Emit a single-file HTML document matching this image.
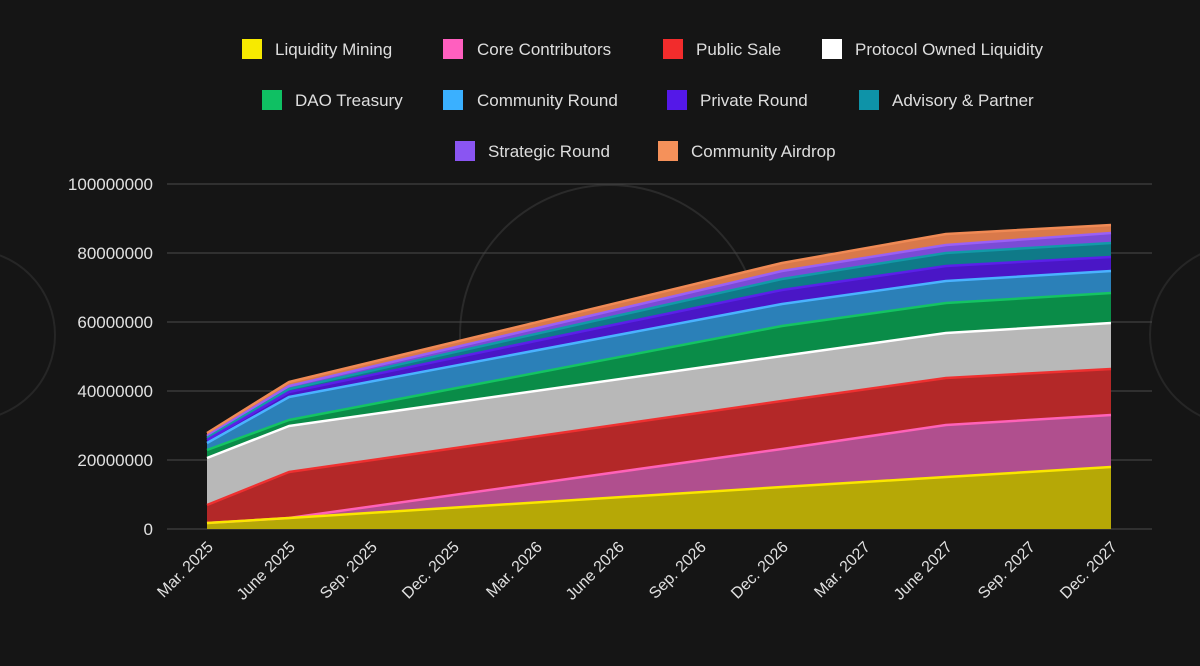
<!DOCTYPE html>
<html><head><meta charset="utf-8"><style>
html,body{margin:0;padding:0;background:#141414;width:1200px;height:666px;overflow:hidden}
svg{display:block}
text{font-family:"Liberation Sans",sans-serif}
</style></head><body>
<svg width="1200" height="666" viewBox="0 0 1200 666">
<rect width="1200" height="666" fill="#151515"/>
<circle cx="610" cy="335" r="150" fill="none" stroke="#2a2a2a" stroke-width="2"/>
<circle cx="-30" cy="335" r="85" fill="none" stroke="#262626" stroke-width="2"/>
<circle cx="1240" cy="335" r="90" fill="none" stroke="#262626" stroke-width="2"/>
<g stroke="#4a4a4a" stroke-width="1">
<line x1="167" y1="184" x2="1152" y2="184"/>
<line x1="167" y1="253" x2="1152" y2="253"/>
<line x1="167" y1="322" x2="1152" y2="322"/>
<line x1="167" y1="391" x2="1152" y2="391"/>
<line x1="167" y1="460" x2="1152" y2="460"/>
<line x1="167" y1="529" x2="1152" y2="529"/>
</g>
<g fill="#e0e0e0" font-size="17" text-anchor="end">
<text x="153" y="190">100000000</text>
<text x="153" y="259">80000000</text>
<text x="153" y="328">60000000</text>
<text x="153" y="397">40000000</text>
<text x="153" y="466">20000000</text>
<text x="153" y="535">0</text>
</g>
<polygon fill="#d9794a" points="207,529 207,433 289,382 782,263 946,234 1111,225 1111,529"/>
<polygon fill="#7b4bd6" points="207,529 207,436 289,386 782,271 946,245 1111,233 1111,529"/>
<polygon fill="#0f7a88" points="207,529 207,438 289,389 782,279 946,253 1111,243 1111,529"/>
<polygon fill="#4a16c6" points="207,529 207,440 289,392 782,290 946,266 1111,257 1111,529"/>
<polygon fill="#2b80b8" points="207,529 207,443 289,397 782,304 946,281 1111,271 1111,529"/>
<polygon fill="#0a8c48" points="207,529 207,450 289,420 782,326 946,303 1111,293 1111,529"/>
<polygon fill="#b8b8b8" points="207,529 207,458 289,426 782,356 946,333 1111,323 1111,529"/>
<polygon fill="#b32828" points="207,529 207,505 289,472 782,401 946,378 1111,369 1111,529"/>
<polygon fill="#b04f8e" points="207,529 207,523 289,518 782,449 946,425 1111,415 1111,529"/>
<polygon fill="#b6a806" points="207,529 207,523 289,518 782,487 946,477 1111,467 1111,529"/>
<g fill="none" stroke-width="2.5" stroke-linejoin="round">
<polyline stroke="#f08a55" points="207,433 289,382 782,263 946,234 1111,225"/>
<polyline stroke="#9a60f5" points="207,436 289,386 782,271 946,245 1111,233"/>
<polyline stroke="#129aa8" points="207,438 289,389 782,279 946,253 1111,243"/>
<polyline stroke="#5a20e8" points="207,440 289,392 782,290 946,266 1111,257"/>
<polyline stroke="#4ab2ff" points="207,443 289,397 782,304 946,281 1111,271"/>
<polyline stroke="#14c462" points="207,450 289,420 782,326 946,303 1111,293"/>
<polyline stroke="#ffffff" points="207,458 289,426 782,356 946,333 1111,323"/>
<polyline stroke="#ee3030" points="207,505 289,472 782,401 946,378 1111,369"/>
<polyline stroke="#ff62b8" points="207,523 289,518 782,449 946,425 1111,415"/>
<polyline stroke="#fbe600" points="207,523 289,518 782,487 946,477 1111,467"/>
</g>
<g fill="#e0e0e0" font-size="16" text-anchor="end">
<text transform="translate(214,548) rotate(-45)">Mar. 2025</text>
<text transform="translate(296,548) rotate(-45)">June 2025</text>
<text transform="translate(378,548) rotate(-45)">Sep. 2025</text>
<text transform="translate(460,548) rotate(-45)">Dec. 2025</text>
<text transform="translate(543,548) rotate(-45)">Mar. 2026</text>
<text transform="translate(625,548) rotate(-45)">June 2026</text>
<text transform="translate(707,548) rotate(-45)">Sep. 2026</text>
<text transform="translate(789,548) rotate(-45)">Dec. 2026</text>
<text transform="translate(871,548) rotate(-45)">Mar. 2027</text>
<text transform="translate(953,548) rotate(-45)">June 2027</text>
<text transform="translate(1036,548) rotate(-45)">Sep. 2027</text>
<text transform="translate(1118,548) rotate(-45)">Dec. 2027</text>
</g>
<g font-size="17" fill="#dedede">
<rect x="242" y="39" width="20" height="20" fill="#f7ea00"/><text x="275" y="55">Liquidity Mining</text>
<rect x="443" y="39" width="20" height="20" fill="#ff5fbf"/><text x="477" y="55">Core Contributors</text>
<rect x="663" y="39" width="20" height="20" fill="#f22c2c"/><text x="696" y="55">Public Sale</text>
<rect x="822" y="39" width="20" height="20" fill="#ffffff"/><text x="855" y="55">Protocol Owned Liquidity</text>
<rect x="262" y="90" width="20" height="20" fill="#0fc063"/><text x="295" y="106">DAO Treasury</text>
<rect x="443" y="90" width="20" height="20" fill="#3ab0ff"/><text x="477" y="106">Community Round</text>
<rect x="667" y="90" width="20" height="20" fill="#5418e8"/><text x="700" y="106">Private Round</text>
<rect x="859" y="90" width="20" height="20" fill="#0e93a8"/><text x="892" y="106">Advisory &amp; Partner</text>
<rect x="455" y="141" width="20" height="20" fill="#8a55f2"/><text x="488" y="157">Strategic Round</text>
<rect x="658" y="141" width="20" height="20" fill="#f5915a"/><text x="691" y="157">Community Airdrop</text>
</g>
</svg>
</body></html>
